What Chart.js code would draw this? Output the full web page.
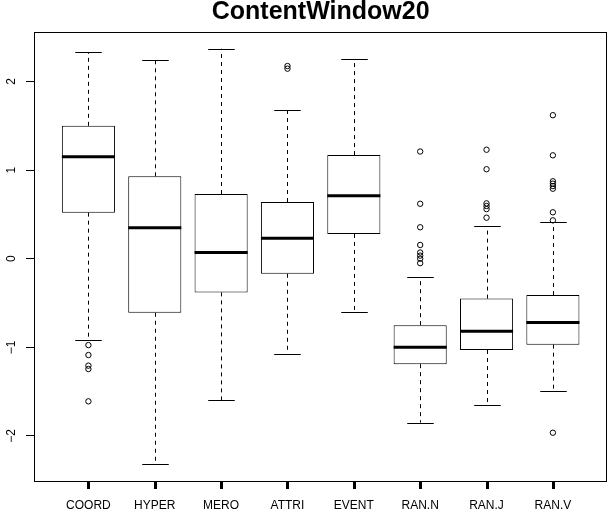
<!DOCTYPE html>
<html>
<head>
<meta charset="utf-8">
<script src="https://cdn.jsdelivr.net/npm/chart.js@4/dist/chart.umd.min.js"></script>
<style>
html,body{margin:0;padding:0;background:#fff;}
canvas{display:block;}
</style>
</head>
<body>
<canvas id="c" width="611" height="512"></canvas>
<script>
const categories = ['COORD','HYPER','MERO','ATTRI','EVENT','RAN.N','RAN.J','RAN.V'];
const whiskerLow  = [-0.92, -2.32, -1.60, -1.07, -0.60, -1.85, -1.65, -1.49];
const q1          = [ 0.52, -0.61, -0.38, -0.17,  0.28, -1.19, -1.03, -0.97];
const medians     = [ 1.15,  0.35,  0.07,  0.23,  0.71, -1.00, -0.82, -0.72];
const q3          = [ 1.50,  0.93,  0.73,  0.64,  1.17, -0.75, -0.45, -0.41];
const whiskerHigh = [ 2.33,  2.24,  2.37,  1.68,  2.25, -0.21,  0.37,  0.41];
const outliers = [
  [-0.975, -1.087, -1.207, -1.245, -1.61],
  [],
  [],
  [2.175, 2.145],
  [],
  [1.21, 0.62, 0.355, 0.155, 0.07, 0.035, 0.0, -0.05],
  [1.23, 1.01, 0.625, 0.595, 0.56, 0.463],
  [1.62, 1.167, 0.874, 0.847, 0.82, 0.79, 0.524, 0.433, -1.964]
];
const yTicks = [-2, -1, 0, 1, 2];
const titleText = 'ContentWindow20';

const FONT = "'Liberation Sans', Arial, Helvetica, sans-serif";
Chart.defaults.color = '#000';
Chart.defaults.font.family = FONT;

const boxData = categories.map((c, i) => ({x: i + 1, y: [q1[i], q3[i]]}));
const outData = [];
outliers.forEach((arr, i) => arr.forEach(v => outData.push({x: i + 1, y: v})));

function seg(ctx, x1, y1, x2, y2) {
  ctx.beginPath(); ctx.moveTo(x1, y1); ctx.lineTo(x2, y2); ctx.stroke();
}

const boxParts = {
  id: 'boxParts',
  beforeDatasetsDraw(chart) {
    const {ctx, scales: {x, y}} = chart;
    const u = x.getPixelForValue(1) - x.getPixelForValue(0);
    ctx.save();
    ctx.strokeStyle = '#000';
    ctx.lineWidth = 1;
    categories.forEach((c, i) => {
      const cx = Math.round(x.getPixelForValue(i + 1)) + 0.5;
      ctx.setLineDash([4, 4]);
      seg(ctx, cx, y.getPixelForValue(q3[i]), cx, y.getPixelForValue(whiskerHigh[i]));
      seg(ctx, cx, y.getPixelForValue(q1[i]), cx, y.getPixelForValue(whiskerLow[i]));
      ctx.setLineDash([]);
      const hi = Math.round(y.getPixelForValue(whiskerHigh[i])) + 0.5;
      const lo = Math.round(y.getPixelForValue(whiskerLow[i])) + 0.5;
      seg(ctx, cx - 0.2 * u, hi, cx + 0.2 * u, hi);
      seg(ctx, cx - 0.2 * u, lo, cx + 0.2 * u, lo);
    });
    ctx.restore();
  },
  afterDatasetsDraw(chart) {
    const {ctx, chartArea: a, scales: {x, y}} = chart;
    const u = x.getPixelForValue(1) - x.getPixelForValue(0);
    ctx.save();
    ctx.strokeStyle = '#000';
    ctx.lineWidth = 3;
    categories.forEach((c, i) => {
      const cx = x.getPixelForValue(i + 1);
      const my = y.getPixelForValue(medians[i]);
      seg(ctx, cx - 0.4 * u, my, cx + 0.4 * u, my);
    });
    ctx.lineWidth = 1;
    ctx.strokeRect(Math.round(a.left) + 0.5, Math.round(a.top) + 0.5,
                   Math.round(a.right - a.left) - 1, Math.round(a.bottom - a.top));
    ctx.restore();
  },
  afterDraw(chart) {
    const {ctx, chartArea: a, scales: {x, y}} = chart;
    ctx.save();
    const b = Math.round(a.bottom);
    ctx.font = '12px ' + FONT;
    ctx.textAlign = 'center';
    ctx.textBaseline = 'alphabetic';
    ctx.fillStyle = '#000';
    categories.forEach((c, i) => {
      const px = x.getPixelForValue(i + 1);
      ctx.fillRect(Math.round(px) - 1, b, 3, 8);
      ctx.fillText(c, px, b + 28);
    });
    ctx.textBaseline = 'middle';
    yTicks.forEach(v => {
      ctx.save();
      ctx.translate(12, y.getPixelForValue(v));
      ctx.rotate(-Math.PI / 2);
      ctx.fillText(String(v).replace('-', '\u2212'), 0, 0);
      ctx.restore();
    });
    ctx.restore();
  }
};

new Chart(document.getElementById('c'), {
  type: 'bar',
  data: {
    datasets: [
      {
        type: 'scatter',
        data: outData,
        pointStyle: 'circle',
        pointRadius: 2.7,
        pointHoverRadius: 2.7,
        borderColor: '#000',
        backgroundColor: 'rgba(0,0,0,0)',
        borderWidth: 1,
        order: 0
      },
      {
        type: 'bar',
        data: boxData,
        backgroundColor: '#fff',
        borderColor: '#000',
        borderWidth: 1,
        borderSkipped: false,
        barPercentage: 0.8,
        categoryPercentage: 1.0,
        order: 1
      }
    ]
  },
  options: {
    responsive: false,
    animation: false,
    events: [],
    layout: {padding: {left: 0, right: 1, top: 0, bottom: 0}},
    plugins: {
      legend: {display: false},
      tooltip: {enabled: false},
      title: {
        display: true,
        text: titleText,
        color: '#000',
        fullSize: false,
        font: {family: FONT, size: 25, weight: 'bold', lineHeight: 1},
        padding: {top: 0, bottom: 7}
      }
    },
    scales: {
      x: {
        type: 'linear',
        min: 0.18,
        max: 8.82,
        offset: false,
        afterBuildTicks: s => { s.ticks = categories.map((c, i) => ({value: i + 1})); },
        afterFit: s => { s.height = 31; },
        grid: {display: false},
        border: {display: false},
        ticks: {display: false}
      },
      y: {
        type: 'linear',
        min: -2.509,
        max: 2.559,
        afterBuildTicks: s => { s.ticks = yTicks.map(v => ({value: v})); },
        afterFit: s => { s.width = 34; },
        grid: {offset: false, drawOnChartArea: false, drawTicks: true, tickLength: 8, color: '#000', tickColor: '#000'},
        border: {display: false},
        ticks: {display: false}
      }
    }
  },
  plugins: [boxParts]
});
</script>
</body>
</html>
